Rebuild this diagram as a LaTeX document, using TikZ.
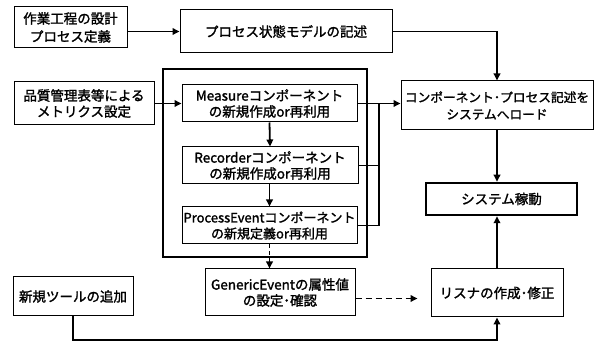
\documentclass[tikz,border=0pt]{standalone}
\usepackage{fontspec}
\setmainfont{Noto Sans CJK JP}[BoldFont=Noto Sans CJK JP, BoldFeatures={FakeBold=1.6}]
\usetikzlibrary{arrows.meta,calc}
\tikzset{
  box/.style={draw, line width=1pt, align=center, inner sep=1pt, font=\fontsize{13.5}{16}\selectfont\bfseries},
  thickbox/.style={box, line width=2.5pt},
  conn/.style={line width=1.8pt},
  arr/.style={conn, -{Triangle[length=7pt,width=6.5pt]}},
  darr/.style={arr, dash pattern=on 6pt off 4pt},
}
\begin{document}
\begin{tikzpicture}[x=1pt,y=-1pt]
\useasboundingbox (0,0) rectangle (594,344);
% frame
\draw[line width=2.5pt] (163,69) rectangle (367,257);
% nodes
\node[box, minimum width=113pt, minimum height=41pt, font=\fontsize{13.5}{18}\selectfont\bfseries] (A) at (70.5,27.5) {作業工程の設計\\プロセス定義};
\node[box, minimum width=212pt, minimum height=43pt] (B) at (286,31.5) {プロセス状態モデルの記述};
\node[box, minimum width=140pt, minimum height=43pt] (H) at (84,103.5) {品質管理表等による\\メトリクス設定};
\node[box, minimum width=175pt, minimum height=37pt] (M) at (269.5,103.5) {Measureコンポーネント\\の新規作成or再利用};
\node[box, minimum width=176pt, minimum height=37pt] (R) at (270,165.5) {Recorderコンポーネント\\の新規作成or再利用};
\node[box, minimum width=175pt, minimum height=37pt, font=\fontsize{13}{16}\selectfont\bfseries] (P) at (269.5,225.5) {ProcessEventコンポーネント\\の新規定義or再利用};
\node[box, minimum width=192pt, minimum height=49pt, font=\fontsize{12.7}{17}\selectfont\bfseries] (C) at (497,105.5) {コンポーネント･プロセス記述を\\システムへロード};
\node[thickbox, minimum width=151pt, minimum height=32pt] (D) at (501.5,199) {システム稼動};
\node[box, minimum width=120pt, minimum height=39pt] (G) at (73,296.5) {新規ツールの追加};
\node[box, minimum width=150pt, minimum height=47pt] (GE) at (280,292.5) {GenericEventの属性値\\の設定･確認};
\node[box, minimum width=132pt, minimum height=48pt] (F) at (497,293) {リスナの作成･修正};
\coordinate (bus) at (379,103.5);
\coordinate (low) at (497,340);
% connectors
\draw[arr] (A.east |- B.west) -- (B.west);
\draw[arr] (B.east) -| (C.north);
\draw[arr] (H.east) -- (M.west);
\draw[arr] (M.east) -- (M.east -| C.west);
\draw[arr] (M.south) -- (R.north);
\draw[arr] (R.south -| M.south) -- (P.north -| M.south);
\draw[conn] (R.east) -- (R.east -| bus);
\draw[conn] (P.east) -- (P.east -| bus) -- (bus);
\draw[arr] (C.south) -- (C.south |- D.north);
\draw[arr] (F.north) -- (F.north |- D.south);
\draw[arr] (G.south) |- (low) -- (F.south);
\draw[darr, dash pattern=on 4pt off 3pt] (P.south -| M.south) -- (GE.north -| M.south);
\draw[darr, shorten >=13pt] ([yshift=-6pt]GE.east) -- ([yshift=-6pt]GE.east -| F.west);
\end{tikzpicture}
\end{document}
